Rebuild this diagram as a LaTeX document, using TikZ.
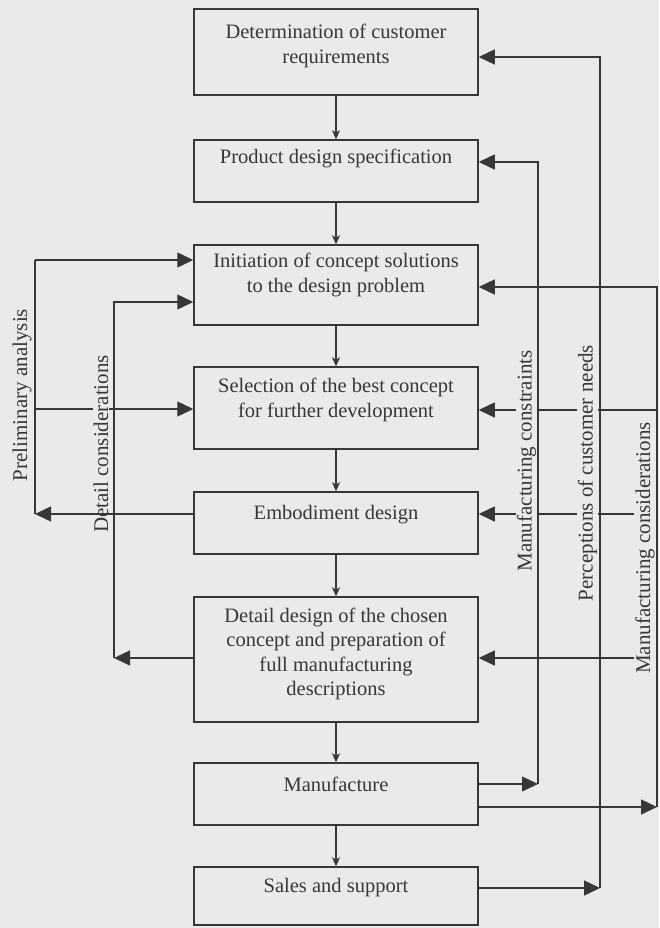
\documentclass[tikz,border=0pt]{standalone}
\usepackage{fontspec}
\setmainfont{Liberation Serif}
\usetikzlibrary{arrows.meta}
\definecolor{paper}{RGB}{234,234,234}
\definecolor{ink}{RGB}{55,55,55}
\tikzset{
  stagebox/.style={draw=ink, line width=1.5pt, minimum width=284pt, inner sep=0pt},
  stagetext/.style={text=ink, align=center, inner sep=0pt,
    font=\fontsize{20.5}{24.3}\selectfont},
  flow/.style={draw=ink, line width=1.4pt},
  feed/.style={flow, -{Triangle[length=16pt,width=15pt]}},
  onward/.style={flow, -{Stealth[length=9pt,width=8pt,inset=2.5pt]}},
  sidelabel/.style={text=ink, rotate=90, fill=paper, inner sep=1pt,
    font=\fontsize{21}{24}\selectfont},
}
\begin{document}
\begin{tikzpicture}[x=1pt,y=-1pt]
\useasboundingbox (0,0) rectangle (659,928);
\fill[paper] (0,0) rectangle (659,928);

% stages of the design process
\node[stagebox, minimum height=86pt]  (b1) at (336,52)    {};
\node[stagebox, minimum height=62pt]  (b2) at (336,171)   {};
\node[stagebox, minimum height=80pt]  (b3) at (336,285)   {};
\node[stagebox, minimum height=82pt]  (b4) at (336,408)   {};
\node[stagebox, minimum height=62pt]  (b5) at (336,523)   {};
\node[stagebox, minimum height=125pt] (b6) at (336,659.5) {};
\node[stagebox, minimum height=62pt]  (b7) at (336,794)   {};
\node[stagebox, minimum height=58pt]  (b8) at (336,896)   {};

\node[stagetext] (t1) at (336,46)  {Determination of customer\\requirements};
\node[stagetext] (t2) at (336,158) {Product design specification};
\node[stagetext] (t3) at (336,275) {Initiation of concept solutions\\to the design problem};
\node[stagetext] (t4) at (336,400) {Selection of the best concept\\for further development};
\node[stagetext] (t5) at (336,515) {Embodiment design};
\node[stagetext] (t6) at (336,654) {Detail design of the chosen\\concept and preparation of\\full manufacturing\\descriptions};
\node[stagetext] (t7) at (336,784) {Manufacture};
\node[stagetext] (t8) at (336,888) {Sales and support};

% main sequence
\draw[onward] (b1.south) -- (b2.north);
\draw[onward] (b2.south) -- (b3.north);
\draw[onward] (b3.south) -- (b4.north);
\draw[onward] (b4.south) -- (b5.north);
\draw[onward] (b5.south) -- (b6.north);
\draw[onward] (b6.south) -- (b7.north);
\draw[onward] (b7.south) -- (b8.north);

% feedback lines on the left
\coordinate (pa-top) at (35,260);
\coordinate (pa-bot) at (35,514);
\coordinate (dc-top) at (114,302);
\coordinate (dc-bot) at (114,658);
\coordinate (pa-mid) at (35,409);

\draw[flow] (pa-bot) -- (pa-top);
\draw[feed] (pa-top) -- (b3.west |- pa-top);
\draw[feed] (pa-mid) -- (b4.west |- pa-mid);
\draw[feed] (b6.west |- dc-bot) -- (dc-bot);
\draw[feed] (dc-bot) -- (dc-top) -- (b3.west |- dc-top);

% feedback lines on the right
\coordinate (mc-top) at (538,162);
\coordinate (mc-bot) at (538,784);
\coordinate (pc-top) at (600,57);
\coordinate (pc-bot) at (600,888);
\coordinate (ms-top) at (657,287);
\coordinate (ms-bot) at (657,807);
\coordinate (ms-b4) at (657,410);
\coordinate (ms-b5) at (657,514);
\coordinate (ms-b6) at (657,658);

\draw[feed] (b7.east |- mc-bot) -- (mc-bot);
\draw[feed] (mc-bot) -- (mc-top) -- (b2.east |- mc-top);
\draw[feed] (b8.east |- pc-bot) -- (pc-bot);
\draw[feed] (pc-bot) -- (pc-top) -- (b1.east |- pc-top);
\draw[feed] (b7.east |- ms-bot) -- (ms-bot);
\draw[feed] (ms-bot) -- (ms-top) -- (b3.east |- ms-top);
\draw[feed] (ms-b4) -- (b4.east |- ms-b4);
\draw[feed] (ms-b5) -- (b5.east |- ms-b5);
\draw[feed] (ms-b6) -- (b6.east |- ms-b6);

% labels of the feedback lines
\node[sidelabel] (l-pa) at (22,395)  {Preliminary analysis};
\node[sidelabel] (l-dc) at (101,444) {Detail considerations};
\node[sidelabel] (l-mc) at (526.5,461) {Manufacturing constraints};
\node[sidelabel] (l-pc) at (587.5,473) {Perceptions of customer needs};
\node[sidelabel] (l-ms) at (645,548) {Manufacturing considerations};

% embodiment feedback runs over its label
\draw[feed] (b5.west |- pa-bot) -- (pa-bot);
\end{tikzpicture}
\end{document}
